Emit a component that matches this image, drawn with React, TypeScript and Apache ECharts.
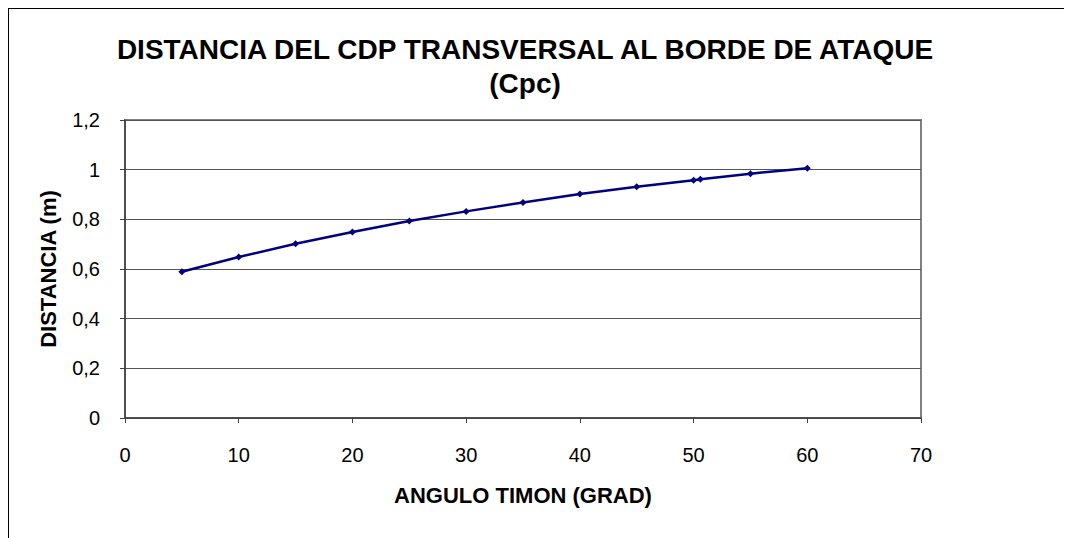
import React, { useEffect, useRef } from "react";
import * as echarts from "echarts";

const angles = [5, 10, 15, 20, 25, 30, 35, 40, 45, 50, 50.6, 55, 60];
const distances = [0.589, 0.648, 0.702, 0.749, 0.793, 0.832, 0.868, 0.902, 0.931, 0.957, 0.961, 0.984, 1.006];
const titleLines = ["DISTANCIA DEL CDP TRANSVERSAL AL BORDE DE ATAQUE", "(Cpc)"];
const xName = "ANGULO TIMON (GRAD)";
const yName = "DISTANCIA (m)";

export default function App() {
  const ref = useRef<HTMLDivElement>(null);
  useEffect(() => {
    if (!ref.current) return;
    const chart = echarts.init(ref.current, null, { renderer: "svg" });
    const font = "Arial, 'Liberation Sans', sans-serif";
    chart.setOption({
      animation: false,
      backgroundColor: "#ffffff",
      textStyle: { fontFamily: font },
      graphic: [
        {
          type: "text",
          x: 517,
          y: 41,
          style: {
            text: titleLines[0],
            align: "center",
            verticalAlign: "middle",
            font: `bold 28px ${font}`,
            fill: "#000",
          },
        },
        {
          type: "text",
          x: 517,
          y: 75,
          style: {
            text: titleLines[1],
            align: "center",
            verticalAlign: "middle",
            font: `bold 28px ${font}`,
            fill: "#000",
          },
        },
      ],
      grid: { left: 117, top: 112, right: 151, bottom: 120, show: true, borderColor: "#808080", borderWidth: 2, backgroundColor: "#fff" },
      xAxis: {
        type: "value",
        min: 0,
        max: 70,
        interval: 10,
        name: xName,
        nameLocation: "middle",
        nameGap: 66,
        nameTextStyle: { fontWeight: "bold", fontSize: 22, color: "#000", fontFamily: font },
        axisLine: { lineStyle: { color: "#404040", width: 1.5 } },
        axisTick: { show: true, length: 5, lineStyle: { color: "#404040" } },
        axisLabel: { fontSize: 20, color: "#000", margin: 27, fontFamily: font },
        splitLine: { show: false },
      },
      yAxis: {
        type: "value",
        min: 0,
        max: 1.2,
        interval: 0.2,
        name: yName,
        nameLocation: "middle",
        nameGap: 66,
        nameTextStyle: { fontWeight: "bold", fontSize: 22, color: "#000", fontFamily: font },
        axisLine: { show: true, lineStyle: { color: "#404040", width: 1.5 } },
        axisTick: { show: true, length: 5, lineStyle: { color: "#404040" } },
        axisLabel: {
          fontSize: 20,
          color: "#000",
          margin: 25,
          fontFamily: font,
          formatter: (v: number) => String(Math.round(v * 10) / 10).replace(".", ","),
        },
        splitLine: { show: true, lineStyle: { color: "#555555", width: 1 } },
      },
      series: [
        {
          type: "line",
          data: angles.map((a, i) => [a, distances[i]]),
          lineStyle: { color: "#000080", width: 2.5 },
          itemStyle: { color: "#000080" },
          symbol: "diamond",
          symbolSize: 7,
          smooth: false,
        },
      ],
    });
    return () => chart.dispose();
  }, []);
  return (
    <div style={{ position: "relative", width: 1064, height: 530 }}>
      <div ref={ref} style={{ width: 1064, height: 530 }} />
      <div
        style={{
          position: "absolute",
          left: -1,
          top: -1,
          width: 1070,
          height: 540,
          borderLeft: "2px solid #000",
          borderTop: "2px solid #000",
          pointerEvents: "none",
        }}
      />
    </div>
  );
}
